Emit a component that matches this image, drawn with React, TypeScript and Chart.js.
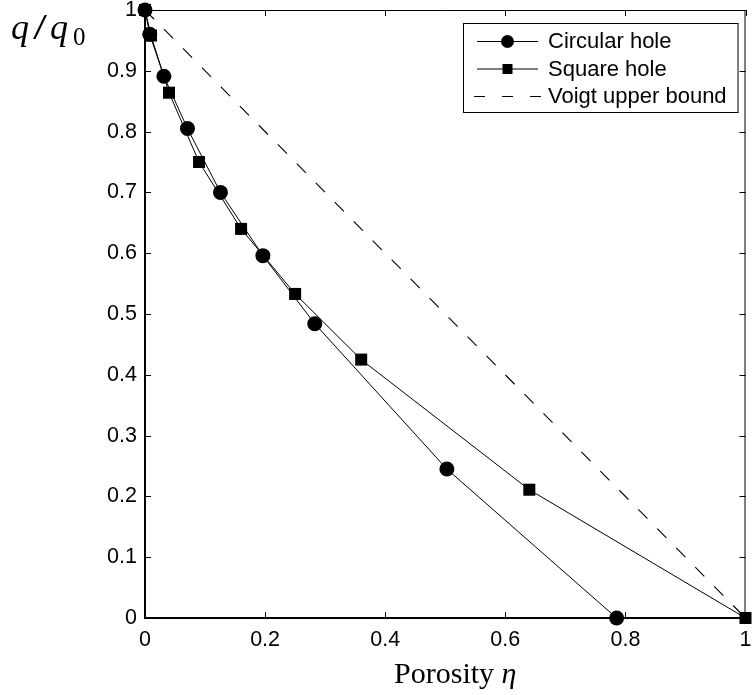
import React, { useEffect, useRef } from "react";
import { Chart, registerables } from "chart.js";

Chart.register(...registerables);

// Data
const circleX = [0, 0.00785, 0.0314, 0.0707, 0.1257, 0.1963, 0.2827, 0.5027, 0.7854];
const circleY = [1, 0.96, 0.891, 0.805, 0.7, 0.596, 0.484, 0.245, 0];
const squareX = [0, 0.01, 0.04, 0.09, 0.16, 0.25, 0.36, 0.64, 1];
const squareY = [1, 0.958, 0.864, 0.75, 0.64, 0.533, 0.425, 0.211, 0];
const voigtX = [0, 1];
const voigtY = [1, 0];

const seriesNames = ["Circular hole", "Square hole", "Voigt upper bound"];

const xTickValues = [0, 0.2, 0.4, 0.6, 0.8, 1];
const xTickLabels = ["0", "0.2", "0.4", "0.6", "0.8", "1"];
const yTickValues = [0, 0.1, 0.2, 0.3, 0.4, 0.5, 0.6, 0.7, 0.8, 0.9, 1];
const yTickLabels = ["0", "0.1", "0.2", "0.3", "0.4", "0.5", "0.6", "0.7", "0.8", "0.9", "1"];
const minorTickLen = 6;

const toPoints = (xs: number[], ys: number[]) => xs.map((x, i) => ({ x, y: ys[i] }));

const lookup = (vals: number[], labels: string[]) => (v: any) => {
  const i = vals.findIndex((t) => Math.abs(t - Number(v)) < 1e-9);
  return i >= 0 ? labels[i] : "";
};

const framePlugin = {
  id: "frame",
  beforeDatasetsDraw(chart: any) {
    const { ctx, chartArea: a, scales } = chart;
    ctx.save();
    ctx.strokeStyle = "#000";
    ctx.lineWidth = 1;
    ctx.beginPath();
    xTickValues.forEach((v) => {
      const px = Math.round(scales.x.getPixelForValue(v)) + 0.5;
      ctx.moveTo(px, a.bottom);
      ctx.lineTo(px, a.bottom - minorTickLen);
      ctx.moveTo(px, a.top);
      ctx.lineTo(px, a.top + minorTickLen);
    });
    yTickValues.forEach((v) => {
      const py = Math.round(scales.y.getPixelForValue(v)) + 0.5;
      ctx.moveTo(a.left, py);
      ctx.lineTo(a.left + minorTickLen, py);
      ctx.moveTo(a.right, py);
      ctx.lineTo(a.right - minorTickLen, py);
    });
    ctx.stroke();
    ctx.beginPath();
    ctx.moveTo(a.left, a.top + 0.5);
    ctx.lineTo(a.right, a.top + 0.5);
    ctx.moveTo(a.right - 0.5, a.top);
    ctx.lineTo(a.right - 0.5, a.bottom);
    ctx.stroke();
    ctx.lineWidth = 2;
    ctx.beginPath();
    ctx.moveTo(a.left, a.top);
    ctx.lineTo(a.left, a.bottom);
    ctx.lineTo(a.right, a.bottom);
    ctx.stroke();
    ctx.restore();
  },
};

const titlesPlugin = {
  id: "titles",
  afterDraw(chart: any) {
    const { ctx, chartArea: a } = chart;
    ctx.save();
    ctx.fillStyle = "#000";
    ctx.textBaseline = "alphabetic";
    ctx.textAlign = "left";
    // y title q/q0
    ctx.font = 'italic 36px "Liberation Serif"';
    ctx.fillText("q", 11, 39);
    ctx.font = '36px "Liberation Serif"';
    ctx.save();
    ctx.translate(40, 39);
    ctx.scale(1.4, 1);
    ctx.textAlign = "center";
    ctx.fillText("/", 0, 0);
    ctx.restore();
    ctx.font = 'italic 36px "Liberation Serif"';
    ctx.fillText("q", 50, 39);
    ctx.font = '25px "Liberation Serif"';
    ctx.fillText("0", 73, 45);
    // x title
    ctx.font = '30px "Liberation Serif"';
    const w1 = ctx.measureText("Porosity ").width;
    ctx.font = 'italic 30px "Liberation Serif"';
    const w2 = ctx.measureText("η").width;
    const cx = (a.left + a.right) / 2 + 10;
    const x0 = cx - (w1 + w2) / 2;
    ctx.font = '30px "Liberation Serif"';
    ctx.fillText("Porosity ", x0, 683);
    ctx.font = 'italic 30px "Liberation Serif"';
    ctx.fillText("η", x0 + w1, 683);
    ctx.restore();
  },
};

const legendPlugin = {
  id: "customLegend",
  afterDraw(chart: any) {
    const { ctx, chartArea: a } = chart;
    const right = a.right - 8;
    const left = 463;
    const top = a.top + 13;
    const bottom = top + 89;
    ctx.save();
    ctx.fillStyle = "#fff";
    ctx.fillRect(left, top, right - left, bottom - top);
    ctx.strokeStyle = "#000";
    ctx.lineWidth = 1;
    ctx.strokeRect(left + 0.5, top + 0.5, right - left, bottom - top);
    const rows = [top + 18, top + 45.5, top + 73];
    const lx0 = left + 14;
    const lx1 = left + 75;
    const mx = (lx0 + lx1) / 2;
    rows.forEach((y, i) => {
      ctx.strokeStyle = "#000";
      ctx.lineWidth = 1;
      ctx.beginPath();
      if (i === 2) {
        ctx.setLineDash([11, 17]);
        ctx.moveTo(left + 11, y + 0.5);
        ctx.lineTo(left + 79, y + 0.5);
      } else {
        ctx.setLineDash([]);
        ctx.moveTo(lx0, y + 0.5);
        ctx.lineTo(lx1, y + 0.5);
      }
      ctx.stroke();
      ctx.setLineDash([]);
      ctx.fillStyle = "#000";
      if (i === 0) {
        ctx.beginPath();
        ctx.arc(mx, y + 0.5, 6.5, 0, Math.PI * 2);
        ctx.fill();
      } else if (i === 1) {
        ctx.fillRect(mx - 5, y - 4.5, 10, 10);
      }
      ctx.font = '22px "Liberation Sans"';
      ctx.textBaseline = "middle";
      ctx.textAlign = "left";
      ctx.fillText(seriesNames[i], left + 85, y + 1);
    });
    ctx.restore();
  },
};

export default function App() {
  const ref = useRef<HTMLCanvasElement | null>(null);

  useEffect(() => {
    if (!ref.current) return;
    const tickFont = { family: '"Liberation Sans", Arial, sans-serif', size: 21.5 };
    const chart = new Chart(ref.current, {
      type: "scatter",
      data: {
        datasets: [
          {
            label: seriesNames[0],
            data: toPoints(circleX, circleY),
            showLine: true,
            borderColor: "#000",
            borderWidth: 1,
            pointStyle: "circle",
            pointRadius: 7.5,
            pointBackgroundColor: "#000",
            pointBorderWidth: 0,
            clip: false as any,
          },
          {
            label: seriesNames[1],
            data: toPoints(squareX, squareY),
            showLine: true,
            borderColor: "#000",
            borderWidth: 1,
            pointStyle: "rect",
            pointRadius: 8.5,
            pointBackgroundColor: "#000",
            pointBorderWidth: 0,
            clip: false as any,
          },
          {
            label: seriesNames[2],
            data: toPoints(voigtX, voigtY),
            showLine: true,
            borderColor: "#000",
            borderWidth: 1.1,
            borderDash: [13, 14],
            pointRadius: 0,
            clip: false as any,
          },
        ],
      },
      options: {
        responsive: false,
        maintainAspectRatio: false,
        animation: false,
        events: [],
        layout: { padding: { top: 10, right: 4, left: 0, bottom: 0 } },
        plugins: {
          legend: { display: false },
          tooltip: { enabled: false },
          title: { display: false },
        },
        scales: {
          x: {
            type: "linear",
            min: 0,
            max: 1,
            afterBuildTicks: (s: any) => {
              s.ticks = xTickValues.map((v) => ({ value: v }));
            },
            afterFit: (s: any) => {
              s.height = 77;
              s.paddingLeft = 0;
              s.paddingRight = 0;
            },
            ticks: {
              callback: lookup(xTickValues, xTickLabels),
              font: tickFont,
              color: "#000",
              padding: 9,
              maxRotation: 0,
              autoSkip: false,
            },
            grid: { display: false, drawTicks: false },
            border: { display: false },
          },
          y: {
            type: "linear",
            min: 0,
            max: 1,
            afterBuildTicks: (s: any) => {
              s.ticks = yTickValues.map((v) => ({ value: v }));
            },
            afterFit: (s: any) => {
              s.width = 145;
              s.paddingTop = 0;
              s.paddingBottom = 0;
            },
            ticks: {
              callback: lookup(yTickValues, yTickLabels),
              font: tickFont,
              color: "#000",
              padding: 8,
              autoSkip: false,
            },
            grid: { display: false, drawTicks: false },
            border: { display: false },
          },
        },
      },
      plugins: [framePlugin, titlesPlugin, legendPlugin],
    });
    return () => chart.destroy();
  }, []);

  return (
    <div style={{ position: "absolute", left: 0, top: 0, width: 754, height: 695, background: "#fff" }}>
      <canvas ref={ref} width={754} height={695} style={{ width: 754, height: 695, display: "block" }} />
    </div>
  );
}
